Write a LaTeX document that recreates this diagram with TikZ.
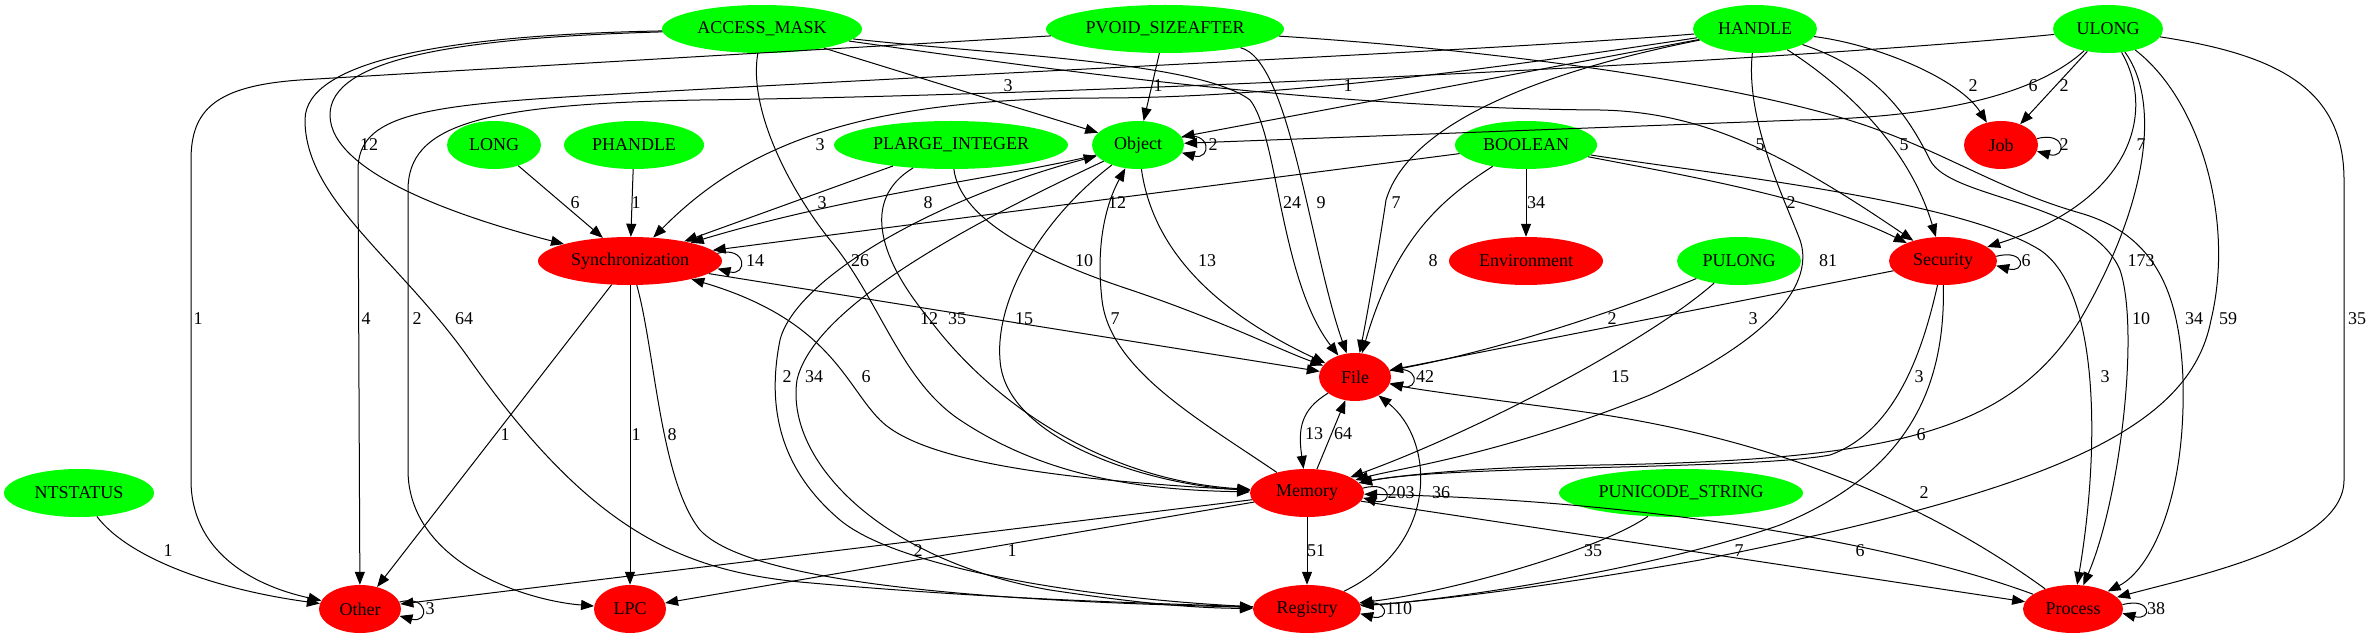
\documentclass[tikz,border=0pt]{standalone}
\usepackage{fontspec}
\setmainfont{Liberation Serif}
\usetikzlibrary{shapes.geometric,arrows.meta}
\definecolor{gvgreen}{RGB}{0,255,0}
\definecolor{gvred}{RGB}{255,0,0}
\begin{document}
\begin{tikzpicture}[x=1pt, y=-1pt, >={Triangle[length=13pt,width=10pt]},
        font=\fontsize{18}{20}\selectfont,
        typ/.style={ellipse, fill=gvgreen, inner sep=0pt, minimum height=48pt},
        cat/.style={ellipse, fill=gvred, inner sep=0pt, minimum height=48pt},
        lbl/.style={inner sep=2pt},
        link/.style={->, line width=1pt}
    ]
    \useasboundingbox (0,0) rectangle (2371,639);

    % parameter types
    \node[typ, minimum width=200pt] (acc) at (762,29) {ACCESS\_MASK};
    \node[typ, minimum width=238pt] (pvoid) at (1165,29) {PVOID\_SIZEAFTER};
    \node[typ, minimum width=124pt] (handle) at (1755,29) {HANDLE};
    \node[typ, minimum width=110pt] (ulong) at (2108,29) {ULONG};
    \node[typ, minimum width=94pt] (long) at (494,145) {LONG};
    \node[typ, minimum width=140pt] (phandle) at (634,145) {PHANDLE};
    \node[typ, minimum width=234pt] (plarge) at (951,145) {PLARGE\_INTEGER};
    \node[typ, minimum width=92pt] (object) at (1138,145) {Object};
    \node[typ, minimum width=142pt] (boolean) at (1526,145) {BOOLEAN};
    \node[typ, minimum width=124pt] (pulong) at (1739,261) {PULONG};
    \node[typ, minimum width=150pt] (ntstatus) at (79,493) {NTSTATUS};
    \node[typ, minimum width=244pt] (punicode) at (1681,493) {PUNICODE\_STRING};

    % categories
    \node[cat, minimum width=74pt] (job) at (2001,145) {Job};
    \node[cat, minimum width=184pt] (sync) at (630,261) {Synchronization};
    \node[cat, minimum width=154pt] (env) at (1526,261) {Environment};
    \node[cat, minimum width=108pt] (sec) at (1943,261) {Security};
    \node[cat, minimum width=72pt] (file) at (1355,377) {File};
    \node[cat, minimum width=114pt] (mem) at (1307,493) {Memory};
    \node[cat, minimum width=82pt] (other) at (360,609) {Other};
    \node[cat, minimum width=72pt] (lpc) at (630,609) {LPC};
    \node[cat, minimum width=108pt] (reg) at (1307,609) {Registry};
    \node[cat, minimum width=100pt] (proc) at (2073,609) {Process};

    % ACCESS_MASK
    \draw[link] (acc) -- (object);
    \node[lbl] (lAccObj) at (1008,86) {3};
    \draw[link] (acc) .. controls (450,38) and (330,60) .. (330,115) .. controls (330,175) and (470,220) .. (sync);
    \node[lbl] (lAccSync) at (369,145) {12};
    \draw[link] (acc) .. controls (1000,55) and (1200,62) .. (1250,100) .. controls (1278,135) and (1280,280) .. (file);
    \node[lbl] (lAccFile) at (1292,203) {24};
    \draw[link] (acc) .. controls (1000,62) and (1300,108) .. (1600,110) .. controls (1700,112) and (1780,150) .. (sec);
    \node[lbl] (lAccSec) at (1760,145) {5};
    \draw[link] (acc) .. controls (748,110) and (790,190) .. (830,240) .. controls (880,300) and (900,380) .. (960,420) .. controls (1050,480) and (1150,490) .. (mem);
    \node[lbl] (lAccMem) at (860,261) {26};
    \draw[link] (acc) .. controls (450,35) and (305,60) .. (305,120) .. controls (305,200) and (400,260) .. (470,360) .. controls (590,530) and (680,570) .. (800,582) .. controls (1000,600) and (1150,603) .. (reg);
    \node[lbl] (lAccReg) at (464,319) {64};

    % PVOID_SIZEAFTER
    \draw[link] (pvoid) -- (object);
    \node[lbl] (lPvObj) at (1158,86) {1};
    \draw[link] (pvoid) .. controls (1290,60) and (1310,250) .. (file);
    \node[lbl] (lPvFile) at (1321,203) {9};
    \draw[link] (pvoid) .. controls (900,45) and (500,68) .. (300,80) .. controls (215,86) and (191,110) .. (191,160) -- (191,480) .. controls (191,550) and (250,585) .. (other);
    \node[lbl] (lPvOther) at (198,319) {1};
    \draw[link] (pvoid) .. controls (1500,50) and (1750,85) .. (1870,127) .. controls (1950,155) and (2000,190) .. (2080,213) .. controls (2160,236) and (2180,300) .. (2183,380) .. controls (2186,500) and (2150,570) .. (proc);
    \node[lbl] (lPvProc) at (2194,319) {34};

    % HANDLE
    \draw[link] (handle) -- (object);
    \node[lbl] (lHaObj) at (1348,86) {1};
    \draw[link] (handle) .. controls (1880,45) and (1960,80) .. (job);
    \node[lbl] (lHaJob) at (1973,86) {2};
    \draw[link] (handle) .. controls (1550,60) and (1300,98) .. (1100,98) .. controls (850,98) and (740,150) .. (sync);
    \node[lbl] (lHaSync) at (820,145) {3};
    \draw[link] (handle) .. controls (1850,90) and (1910,150) .. (sec);
    \node[lbl] (lHaSec) at (1904,145) {5};
    \draw[link] (handle) .. controls (1745,120) and (1785,200) .. (1800,240) .. controls (1812,275) and (1790,330) .. (1650,395) .. controls (1500,455) and (1400,468) .. (mem);
    \node[lbl] (lHaMem) at (1828,261) {81};
    \draw[link] (handle) .. controls (1550,70) and (1410,120) .. (1386,200) .. controls (1380,240) and (1370,300) .. (file);
    \node[lbl] (lHaFile) at (1396,203) {7};
    \draw[link] (handle) .. controls (1500,50) and (1000,72) .. (600,95) .. controls (420,105) and (358,115) .. (358,170) -- (other);
    \node[lbl] (lHaOther) at (366,319) {4};
    \draw[link] (handle) .. controls (1880,70) and (1910,120) .. (1930,160) .. controls (1950,200) and (2090,200) .. (2120,270) .. controls (2140,330) and (2120,500) .. (proc);
    \node[lbl] (lHaProc) at (2141,319) {10};

    % ULONG
    \draw[link] (ulong) .. controls (2030,100) and (1920,118) .. (1800,120) -- (object);
    \node[lbl] (lUlObj) at (2033,86) {6};
    \draw[link] (ulong) -- (job);
    \node[lbl] (lUlJob) at (2064,86) {2};
    \draw[link] (ulong) .. controls (2155,110) and (2135,200) .. (sec);
    \node[lbl] (lUlSec) at (2141,145) {7};
    \draw[link] (ulong) .. controls (2160,100) and (2150,200) .. (2080,320) .. controls (2010,430) and (1900,460) .. (1600,465) .. controls (1480,467) and (1400,475) .. (mem);
    \node[lbl] (lUlMem) at (2141,261) {173};
    \draw[link] (ulong) .. controls (1800,60) and (1100,95) .. (700,100) .. controls (480,104) and (408,125) .. (408,190) -- (408,470) .. controls (408,560) and (520,600) .. (lpc);
    \node[lbl] (lUlLpc) at (417,319) {2};
    \draw[link] (ulong) .. controls (2200,100) and (2235,220) .. (2211,320) .. controls (2190,430) and (2050,490) .. (1700,560) .. controls (1500,595) and (1400,603) .. (reg);
    \node[lbl] (lUlReg) at (2228,319) {59};
    \draw[link] (ulong) .. controls (2280,55) and (2344,90) .. (2344,180) -- (2344,480) .. controls (2344,545) and (2200,575) .. (proc);
    \node[lbl] (lUlProc) at (2357,319) {35};

    % LONG, PHANDLE, PLARGE_INTEGER
    \draw[link] (long) -- (sync);
    \node[lbl] (lLongSync) at (575,203) {6};
    \draw[link] (phandle) -- (sync);
    \node[lbl] (lPhSync) at (636,203) {1};
    \draw[link] (plarge) -- (sync);
    \node[lbl] (lPlSync) at (822,203) {3};
    \draw[link] (plarge) .. controls (860,200) and (880,260) .. (930,320) .. controls (990,400) and (1100,480) .. (mem);
    \node[lbl] (lPlMem) at (957,319) {35};
    \draw[link] (plarge) .. controls (960,220) and (1040,260) .. (1131,290) .. controls (1220,320) and (1280,350) .. (file);
    \node[lbl] (lPlFile) at (1084,261) {10};

    % Object
    \draw[link] (object.10) .. controls +(30,-8) and +(30,8) .. (object.-10);
    \node[lbl] (lObjObj) at (1213,145) {2};
    \draw[link] (object) .. controls (1000,178) and (850,195) .. (sync);
    \node[lbl] (lObjSync) at (928,203) {8};
    \draw[link] (object) .. controls (1150,230) and (1190,300) .. (file);
    \node[lbl] (lObjFile) at (1207,261) {13};
    \draw[link] (object) .. controls (1040,220) and (995,300) .. (1000,360) .. controls (1005,440) and (1150,485) .. (mem);
    \node[lbl] (lObjMem) at (1024,319) {15};
    \draw[link] (object) .. controls (1000,210) and (815,300) .. (797,380) .. controls (785,460) and (880,560) .. (1050,590) .. controls (1150,605) and (1200,608) .. (reg);
    \node[lbl] (lObjReg) at (814,377) {34};
    \draw[link] (mem) .. controls (1200,420) and (1110,370) .. (1102,300) .. controls (1095,240) and (1108,200) .. (object);
    \node[lbl] (lMemObj) at (1115,319) {7};
    \draw[link] (reg) .. controls (1100,600) and (900,570) .. (840,520) .. controls (775,465) and (768,400) .. (780,340) .. controls (795,280) and (930,200) .. (object);
    \node[lbl] (lRegObj) at (787,377) {2};

    % BOOLEAN
    \draw[link] (boolean) -- (sync);
    \node[lbl] (lBoSync) at (1117,203) {12};
    \draw[link] (boolean) -- (env);
    \node[lbl] (lBoEnv) at (1536,203) {34};
    \draw[link] (boolean) .. controls (1440,200) and (1395,240) .. (file);
    \node[lbl] (lBoFile) at (1433,261) {8};
    \draw[link] (boolean) .. controls (1700,178) and (1820,200) .. (sec);
    \node[lbl] (lBoSec) at (1791,203) {2};
    \draw[link] (boolean) .. controls (1720,175) and (1960,200) .. (2040,250) .. controls (2100,290) and (2100,450) .. (proc);
    \node[lbl] (lBoProc) at (2105,377) {3};

    % Job
    \draw[link] (job.10) .. controls +(30,-8) and +(30,8) .. (job.-10);
    \node[lbl] (lJobJob) at (2064,145) {2};

    % Synchronization
    \draw[link] (sync.5) .. controls +(30,-8) and +(30,8) .. (sync.-5);
    \node[lbl] (lSyncSync) at (755,261) {14};
    \draw[link] (sync) -- (file);
    \node[lbl] (lSyncFile) at (929,319) {12};
    \draw[link] (sync) -- (other);
    \node[lbl] (lSyncOther) at (505,435) {1};
    \draw[link] (sync) -- (lpc);
    \node[lbl] (lSyncLpc) at (636,435) {1};
    \draw[link] (sync) .. controls (655,350) and (660,480) .. (700,530) .. controls (760,595) and (1100,603) .. (reg);
    \node[lbl] (lSyncReg) at (672,435) {8};

    % PULONG, Security
    \draw[link] (pulong) .. controls (1620,310) and (1500,350) .. (file);
    \node[lbl] (lPuFile) at (1612,319) {2};
    \draw[link] (pulong) .. controls (1650,340) and (1480,430) .. (mem);
    \node[lbl] (lPuMem) at (1620,377) {15};
    \draw[link] (sec.5) .. controls +(30,-8) and +(30,8) .. (sec.-5);
    \node[lbl] (lSecSec) at (2026,261) {6};
    \draw[link] (sec) -- (file);
    \node[lbl] (lSecFile) at (1753,319) {3};
    \draw[link] (sec) .. controls (1925,340) and (1900,430) .. (1830,455) .. controls (1750,470) and (1450,465) .. (mem);
    \node[lbl] (lSecMem) at (1919,377) {3};
    \draw[link] (sec) .. controls (1945,380) and (1915,470) .. (1780,525) .. controls (1650,570) and (1450,600) .. (reg);
    \node[lbl] (lSecReg) at (1921,435) {6};

    % File
    \draw[link] (file.10) .. controls +(30,-8) and +(30,8) .. (file.-10);
    \node[lbl] (lFileFile) at (1425,377) {42};
    \draw[link] (file) .. controls (1300,410) and (1298,430) .. (mem);
    \node[lbl] (lFileMem) at (1314,434) {13};

    % Memory
    \draw[link] (mem.5) .. controls +(30,-8) and +(30,8) .. (mem.-5);
    \node[lbl] (lMemMem) at (1401,493) {203};
    \draw[link] (mem) -- (file);
    \node[lbl] (lMemFile) at (1343,434) {64};
    \draw[link] (mem) .. controls (1050,480) and (920,460) .. (880,420) .. controls (845,385) and (830,320) .. (sync);
    \node[lbl] (lMemSync) at (866,377) {6};
    \draw[link] (mem) -- (other);
    \node[lbl] (lMemOther) at (918,551) {2};
    \draw[link] (mem) -- (lpc);
    \node[lbl] (lMemLpc) at (1012,551) {1};
    \draw[link] (mem) -- (reg);
    \node[lbl] (lMemReg) at (1316,551) {51};
    \draw[link] (mem) -- (proc);
    \node[lbl] (lMemProc) at (1739,551) {7};

    % NTSTATUS, PUNICODE_STRING
    \draw[link] (ntstatus) .. controls (130,560) and (220,590) .. (other);
    \node[lbl] (lNtOther) at (168,551) {1};
    \draw[link] (punicode) .. controls (1600,550) and (1450,592) .. (reg);
    \node[lbl] (lPsReg) at (1593,551) {35};

    % Registry, Process, Other
    \draw[link] (reg.5) .. controls +(30,-8) and +(30,8) .. (reg.-5);
    \node[lbl] (lRegReg) at (1399,609) {110};
    \draw[link] (reg) .. controls (1440,545) and (1435,440) .. (file);
    \node[lbl] (lRegFile) at (1441,493) {36};
    \draw[link] (proc.5) .. controls +(30,-8) and +(30,8) .. (proc.-5);
    \node[lbl] (lProcProc) at (2156,609) {38};
    \draw[link] (proc) .. controls (1950,520) and (1800,440) .. (1570,410) .. controls (1480,398) and (1420,390) .. (file);
    \node[lbl] (lProcFile) at (1924,493) {2};
    \draw[link] (proc) .. controls (1900,545) and (1650,500) .. (mem);
    \node[lbl] (lProcMem) at (1860,551) {6};
    \draw[link] (other.10) .. controls +(30,-8) and +(30,8) .. (other.-10);
    \node[lbl] (lOtherOther) at (430,609) {3};
\end{tikzpicture}
\end{document}
